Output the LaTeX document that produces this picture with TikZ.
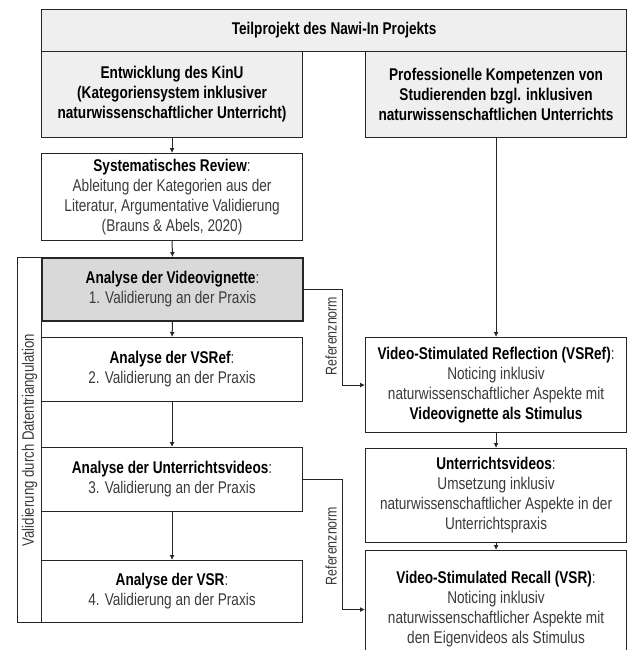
\documentclass[tikz,border=0pt]{standalone}
\usepackage{fontspec}
\setmainfont{Liberation Sans}[FakeStretch=0.8]
\usetikzlibrary{arrows.meta}
\definecolor{txtgray}{HTML}{3A3A3A}
\definecolor{fillA}{HTML}{EFEFEF}
\definecolor{fillB}{HTML}{D9D9D9}
\newcommand{\hb}[1]{\textcolor{black}{\textbf{#1}}}
\begin{document}
\begin{tikzpicture}[x=1pt,y=-1pt,
  box/.style={draw=black!85, line width=1.1pt, anchor=north west, minimum width=261pt,
    inner sep=2pt, align=center, text=txtgray,
    font=\fontsize{17}{20}\selectfont},
  graybox/.style={box, fill=fillA},
  arr/.style={draw=black!85, line width=1pt, -{Latex[length=5pt,width=5pt]}},
  lbl/.style={rotate=90, text=txtgray, font=\fontsize{15.5}{18}\selectfont, inner sep=0pt}]
\useasboundingbox (0,0) rectangle (628,650);
\clip (0,0) rectangle (628,650);

\node[graybox, minimum width=585pt, minimum height=42pt] (top) at (41,9) {\hb{Teilprojekt des Nawi-In Projekts}};
\node[graybox, minimum height=86pt] (ent) at (41,51) {\hb{Entwicklung des KinU}\\\hb{(Kategoriensystem inklusiver}\\\hb{naturwissenschaftlicher Unterricht)}};
\node[graybox, minimum height=86pt] (prof) at (365,51) {\hb{Professionelle Kompetenzen von}\\\hb{Studierenden bzgl. inklusiven}\\\hb{naturwissenschaftlichen Unterrichts}};
\node[box, minimum height=87pt] (rev) at (41,153) {\hb{Systematisches Review}:\\Ableitung der Kategorien aus der\\Literatur, Argumentative Validierung\\(Brauns \& Abels, 2020)};

\node[draw=black!85, line width=1.1pt, anchor=north west, minimum width=24pt, minimum height=365pt, inner sep=0pt] (brk) at (17,257) {};
\node[lbl, font=\fontsize{16.5}{18}\selectfont] (brklbl) at (brk.center) {Validierung durch Datentriangulation};

\node[box, fill=fillB, line width=2pt, minimum height=63pt] (vv) at (41,257) {\hb{Analyse der Videovignette}:\\1. Validierung an der Praxis};
\node[box, minimum height=64pt] (vsref) at (41,337) {\hb{Analyse der VSRef}:\\2. Validierung an der Praxis};
\node[box, minimum height=64pt] (uv) at (41,447) {\hb{Analyse der Unterrichtsvideos}:\\3. Validierung an der Praxis};
\node[box, minimum height=62pt] (vsr) at (41,560) {\hb{Analyse der VSR}:\\4. Validierung an der Praxis};

\node[box, minimum height=95pt] (rvsref) at (365,337) {\hb{Video-Stimulated Reflection (VSRef)}:\\Noticing inklusiv\\naturwissenschaftlicher Aspekte mit\\\hb{Videovignette als Stimulus}};
\node[box, minimum height=94pt] (ruv) at (365,448) {\hb{Unterrichtsvideos}:\\Umsetzung inklusiv\\naturwissenschaftlicher Aspekte in der\\Unterrichtspraxis};
\node[box, minimum height=118pt] (rvsr) at (365,550) {\hb{Video-Stimulated Recall (VSR)}:\\Noticing inklusiv\\naturwissenschaftlicher Aspekte mit\\den Eigenvideos als Stimulus};

\draw[arr] (ent.south) -- (rev.north);
\draw[arr] (rev.south) -- (vv.north);
\draw[arr] (vv.south) -- (vsref.north);
\draw[arr] (vsref.south) -- (uv.north);
\draw[arr] (uv.south) -- (vsr.north);
\draw[arr] (prof.south) -- (rvsref.north);
\draw[arr] (rvsref.south) -- (ruv.north);
\draw[arr] (ruv.south) -- (rvsr.north);

\coordinate (kx) at (342,0);
\draw[arr] (vv.east) -- (vv.east -| kx) |- (rvsref.west);
\draw[arr] (uv.east) -- (uv.east -| kx) |- (rvsr.west);
\node[lbl] (ref1) at (331,336) {Referenznorm};
\node[lbl] (ref2) at (331,546) {Referenznorm};
\end{tikzpicture}
\end{document}
